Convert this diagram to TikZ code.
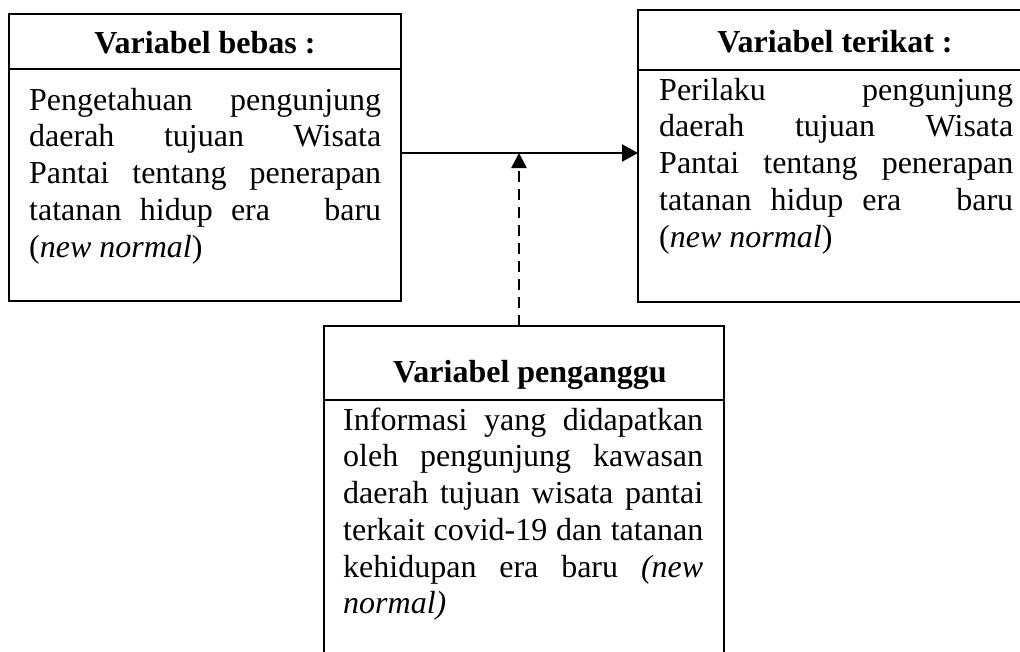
\documentclass[tikz,border=0pt]{standalone}
\usepackage{fontspec}
\setmainfont{Liberation Serif}
\usetikzlibrary{arrows.meta}
\newcommand\jl[1]{\makebox[\linewidth][s]{#1}\par}
\begin{document}
\begin{tikzpicture}[x=1pt,y=-1pt,
  box/.style={draw, line width=1.4pt, rectangle, inner sep=0pt, outer sep=0pt, anchor=north west},
  head/.style={anchor=base, inner sep=0pt, font=\fontsize{32}{36.75}\selectfont\bfseries},
  body/.style={anchor=base west, inner sep=0pt, font=\fontsize{32}{36.75}\selectfont},
  divider/.style={line width=2pt},
  arr/.style={line width=2.4pt, -{Triangle[length=16pt,width=17pt]}},
  darr/.style={line width=2.6pt, dash pattern=on 11pt off 7pt, -{Triangle[length=15pt,width=15pt]}}
]
\fill[white] (0,0) rectangle (1020,651);
\useasboundingbox (0,0) rectangle (1020,651);
\clip (0,0) rectangle (1020,651);

% boxes
\node[box, minimum width=392pt, minimum height=287pt] (bebas) at (9,14) {};
\node[box, minimum width=394pt, minimum height=292pt] (terikat) at (638,10) {};
\node[box, minimum width=400pt, minimum height=380pt] (penganggu) at (324,326) {};

% header dividers
\draw[divider] (9,69) -- (401,69);
\draw[divider] (638,70) -- (1032,70);
\draw[divider] (324,400) -- (724,400);

% headers
\node[head] (hbebas) at (205,53) {Variabel bebas :};
\node[head] (hterikat) at (835,52) {Variabel terikat :};
\node[head] (hpeng) at (530,382) {Variabel penganggu};

% bodies
\node[body] (tbebas) at (29,110) {\parbox[t]{352pt}{%
\jl{Pengetahuan pengunjung}%
\jl{daerah tujuan Wisata}%
\jl{Pantai tentang penerapan}%
\jl{tatanan hidup era\hspace{36pt} baru}%
(\textit{new normal})}};

\node[body] (tterikat) at (659,100) {\parbox[t]{354pt}{%
\jl{Perilaku pengunjung}%
\jl{daerah tujuan Wisata}%
\jl{Pantai tentang penerapan}%
\jl{tatanan hidup era\hspace{36pt} baru}%
(\textit{new normal})}};

\node[body] (tpeng) at (343,430) {\parbox[t]{360pt}{%
\jl{Informasi yang didapatkan}%
\jl{oleh pengunjung kawasan}%
\jl{daerah tujuan wisata pantai}%
\jl{terkait covid-19 dan tatanan}%
\jl{kehidupan era baru \textit{(new}}%
\textit{normal)}}};

% connectors
\coordinate (meet) at (519,153);
\draw[arr] (bebas.east |- meet) -- (terikat.west |- meet);
\draw[darr] (meet |- penganggu.north) -- (meet);
\end{tikzpicture}
\end{document}
